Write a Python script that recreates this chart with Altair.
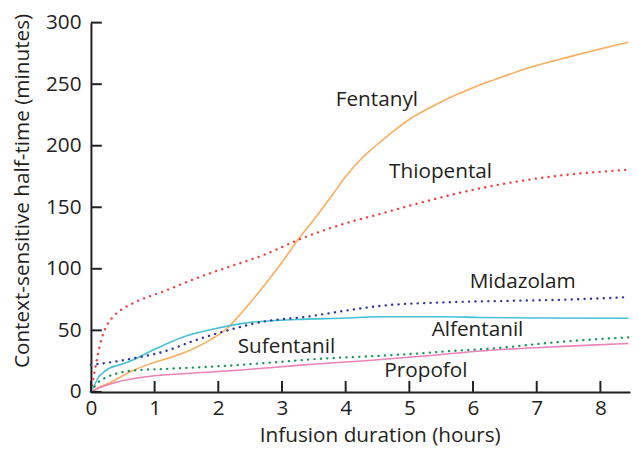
import altair as alt
import pandas as pd

# ---- data ----
fentanyl_x = [0, 0.1, 0.28, 0.64, 1.0, 1.47, 1.88, 2.14, 2.3, 2.5, 2.91, 3.28, 3.56, 3.79, 4.0, 4.2, 4.36, 4.52, 4.78, 5.03, 5.29, 5.55, 5.81, 6.07, 6.33, 6.79, 7.57, 8.44]
fentanyl_y = [0, 3, 7, 17, 24, 32, 42.5, 51.7, 60.5, 72.5, 99, 125.6, 144, 160, 175, 187, 195, 202, 213, 222.5, 230, 237, 243, 248.5, 253.5, 262, 273, 284]

thiopental_x = [0, 0.07, 0.15, 0.23, 0.33, 0.43, 0.64, 1.16, 1.67, 2.19, 2.7, 3.28, 4.0, 4.5, 5.09, 6.12, 7.15, 8.44]
thiopental_y = [0, 20, 40, 52, 60, 65, 71.5, 82, 92.6, 102, 111, 124, 137, 144, 152.5, 165.5, 174.4, 180.5]

midazolam_x = [0, 0.3, 0.64, 1.16, 1.67, 2.19, 2.7, 3.38, 4.0, 4.57, 5.6, 6.64, 7.5, 8.44]
midazolam_y = [22, 24, 27, 33, 42.5, 50.6, 57, 61, 66, 70, 72.8, 74, 75, 77]

alfentanil_x = [0, 0.05, 0.12, 0.2, 0.28, 0.45, 0.64, 1.0, 1.47, 1.98, 2.5, 3.22, 4.0, 4.5, 5.5, 6.12, 7.0, 8.44]
alfentanil_y = [0, 5, 12, 16, 19, 22, 25.5, 34.6, 45, 51.7, 56.5, 58.8, 60, 61, 61, 60.5, 60, 59.8]

sufentanil_x = [0, 0.1, 0.25, 0.41, 0.67, 1.18, 2.0, 3.0, 3.53, 4.41, 5.09, 5.6, 6.33, 7.36, 8.44]
sufentanil_y = [0, 7, 12, 15, 17.4, 18.7, 20.8, 24.5, 26.7, 29, 31, 33, 35.4, 40.6, 44.3]

propofol_x = [0, 0.1, 0.2, 0.41, 0.93, 1.44, 2.0, 3.0, 3.53, 4.31, 5.09, 6.33, 7.4, 8.44]
propofol_y = [0, 2.5, 4.5, 8, 12.7, 14.8, 16.5, 20.5, 22.7, 25.3, 28.5, 34, 37, 39.3]

drugs = ["Fentanyl", "Thiopental", "Midazolam", "Alfentanil", "Sufentanil", "Propofol"]
colors = ["#fbac5c", "#ef4040", "#34359a", "#45c1d6", "#16955a", "#ec82b6"]
solid_drugs = ["Fentanyl", "Alfentanil", "Propofol"]
dotted_drugs = ["Thiopental", "Midazolam", "Sufentanil"]

label_text = ["Fentanyl", "Thiopental", "Midazolam", "Alfentanil", "Sufentanil", "Propofol"]
label_x = [4.49, 5.49, 6.78, 6.07, 3.07, 5.26]
label_y = [231.9, 173.4, 84.1, 45.7, 31.4, 11.9]

x_tick_values = [0, 1, 2, 3, 4, 5, 6, 7, 8]
y_tick_values = [0, 50, 100, 150, 200, 250, 300]

series = {
    "Fentanyl": (fentanyl_x, fentanyl_y),
    "Thiopental": (thiopental_x, thiopental_y),
    "Midazolam": (midazolam_x, midazolam_y),
    "Alfentanil": (alfentanil_x, alfentanil_y),
    "Sufentanil": (sufentanil_x, sufentanil_y),
    "Propofol": (propofol_x, propofol_y),
}
rows = []
for name, (xs, ys) in series.items():
    for xv, yv in zip(xs, ys):
        rows.append({"drug": name, "hours": xv, "minutes": yv})
df = pd.DataFrame(rows)
labels_df = pd.DataFrame({"text": label_text, "hours": label_x, "minutes": label_y})
xt_df = pd.DataFrame({"hours": x_tick_values})
yt_df = pd.DataFrame({"minutes": y_tick_values})

FONT = "Open Sans"
INK = "#231f20"
W, H = 546, 374

x_scale = alt.Scale(domain=[0, 8.465], nice=False, zero=False)
y_scale = alt.Scale(domain=[0, 300], nice=False)
color_scale = alt.Scale(domain=drugs, range=colors)

x_axis = alt.Axis(
    values=x_tick_values, title="Infusion duration (hours)",
    titleX=292.5, titleY=50, titleAlign="center", titleBaseline="alphabetic",
    labelPadding=6, labelFlush=False,
)
y_axis = alt.Axis(
    values=y_tick_values, title="Context-sensitive half-time (minutes)",
    titleX=-63, titleY=170, titleAlign="center", titleBaseline="alphabetic",
    titleAngle=270, labelPadding=10, labelFlush=False,
)

X = alt.X("hours:Q", scale=x_scale, axis=x_axis)
Y = alt.Y("minutes:Q", scale=y_scale, axis=y_axis)

base = alt.Chart(df)
solid = base.transform_filter(
    alt.FieldOneOfPredicate(field="drug", oneOf=solid_drugs)
).mark_line(strokeWidth=1.6, interpolate="monotone").encode(
    x=X, y=Y, color=alt.Color("drug:N", scale=color_scale, legend=None),
)
dotted = base.transform_filter(
    alt.FieldOneOfPredicate(field="drug", oneOf=dotted_drugs)
).mark_line(strokeWidth=2.4, strokeDash=[0.1, 6.4], strokeCap="round", interpolate="monotone").encode(
    x=X, y=Y, color=alt.Color("drug:N", scale=color_scale, legend=None),
)

y_ticks = alt.Chart(yt_df).mark_rule(color=INK, strokeWidth=2).encode(
    y=Y, x=alt.value(0), x2=alt.value(11)
)
x_ticks = alt.Chart(xt_df).mark_rule(color=INK, strokeWidth=2).encode(
    x=X, y=alt.value(H), y2=alt.value(H - 11)
)

texts = alt.Chart(labels_df).mark_text(
    font=FONT, fontSize=21, color=INK, align="center", baseline="alphabetic"
).encode(x=X, y=Y, text="text:N")

chart = alt.layer(solid, dotted, y_ticks, x_ticks, texts).properties(
    width=W, height=H, background="white",
    autosize=alt.AutoSizeParams(type="none"),
    padding={"left": 84, "top": 12, "right": 1, "bottom": 54},
).configure_view(stroke=None).configure_axis(
    grid=False, ticks=False, domainColor=INK, domainWidth=2,
    labelFont=FONT, labelFontSize=21, labelColor=INK,
    titleFont=FONT, titleFontSize=21, titleFontWeight="normal", titleColor=INK,
)

chart.save("out.html", embed_options={"renderer": "svg", "actions": False})
